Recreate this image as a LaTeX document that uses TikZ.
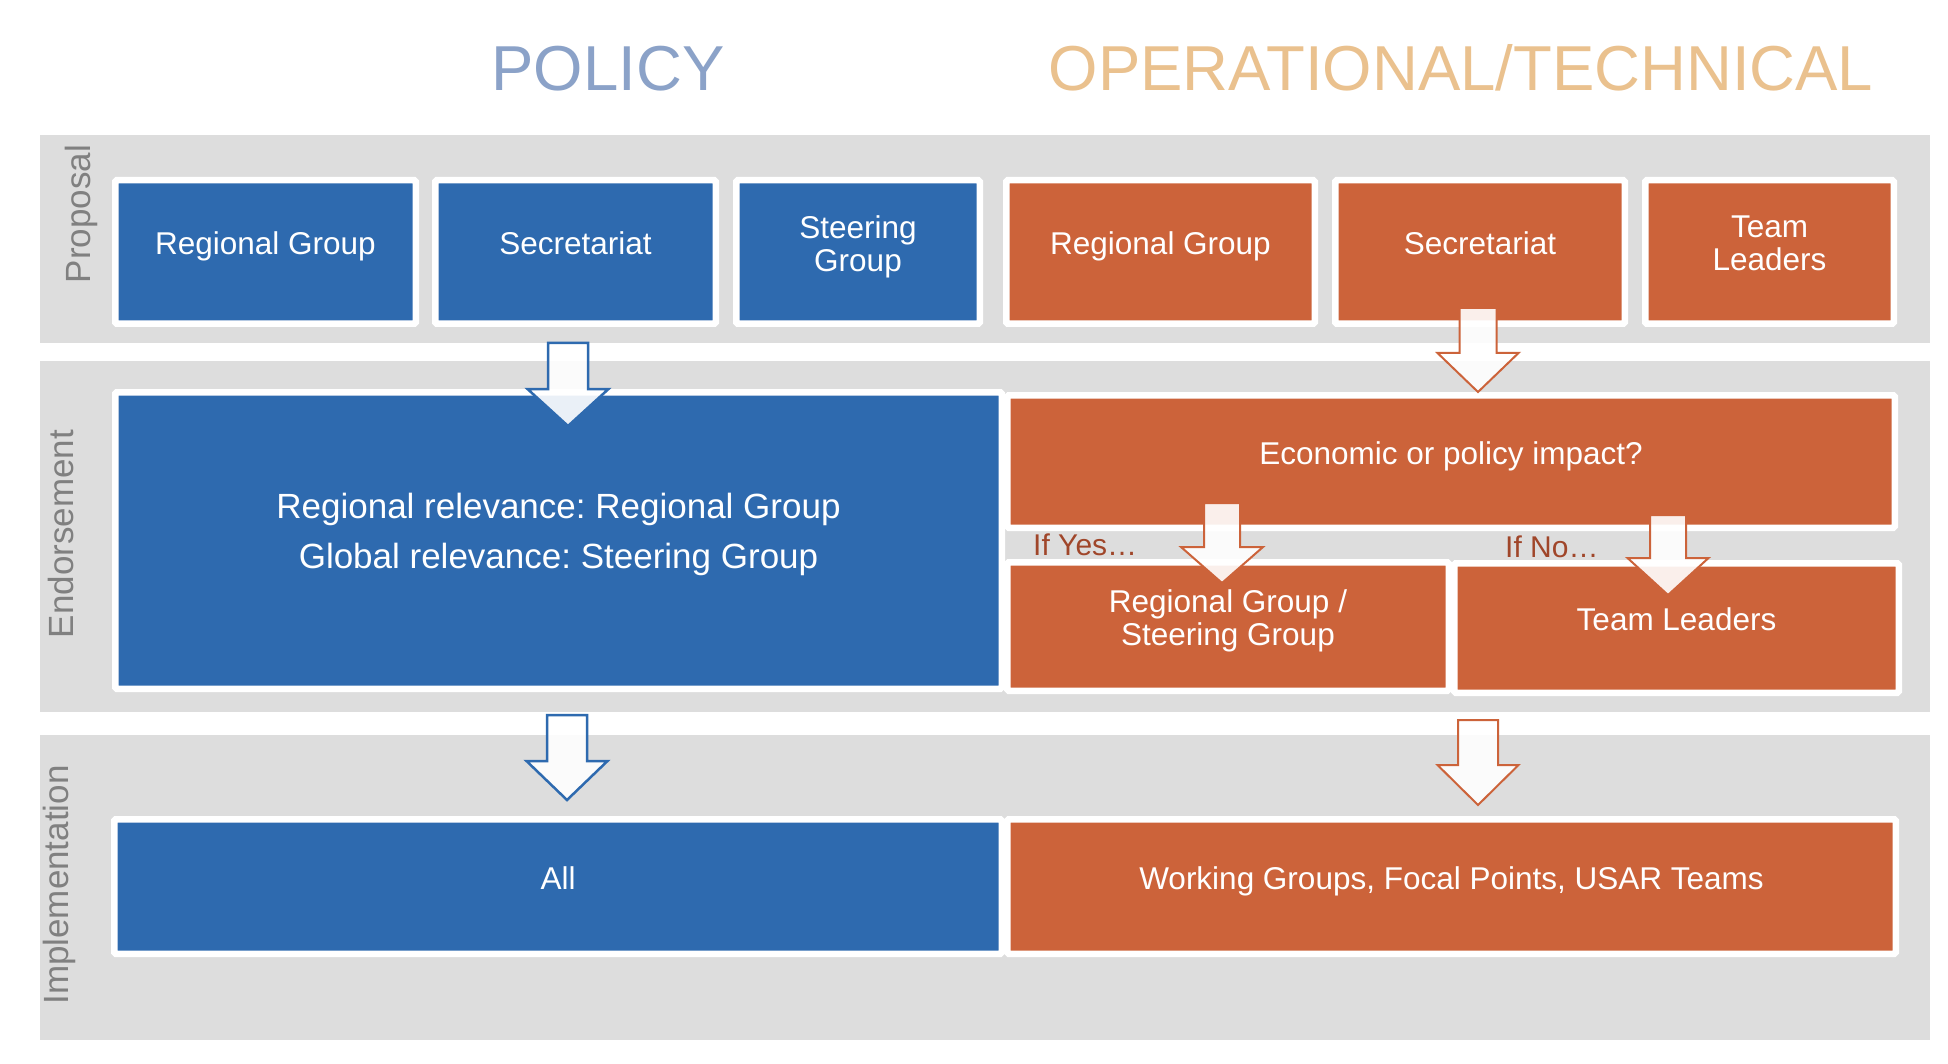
\documentclass[tikz,border=0pt]{standalone}
\usepackage{fontspec}
\setmainfont{Liberation Sans}
\frenchspacing
\definecolor{pblue}{RGB}{46,106,175}
\definecolor{porange}{RGB}{204,99,58}
\definecolor{bandgray}{RGB}{221,221,221}
\definecolor{labelgray}{RGB}{128,128,128}
\definecolor{titleblue}{RGB}{139,162,200}
\definecolor{titleorange}{RGB}{234,193,142}
\definecolor{iftext}{RGB}{160,70,42}
\newcommand{\dn}{\rule[-0.56em]{0pt}{1.28em}}
\newcommand{\dnarrow}[6]{%
  \draw[#1] (#2) ++(-#3,0) -- ++({2*#3},0) -- ++(0,#5) -- ++({#4-#3},0)
    -- ++({-#4},#6) -- ++({-#4},{-#6}) -- ++({#4-#3},0) -- cycle;}
\begin{document}
\begin{tikzpicture}[x=1pt,y=-1pt,
  band/.style={fill=bandgray},
  box/.style={rectangle, draw=white, line width=6.5pt, rounded corners=1.5pt,
    inner sep=0pt, text=white, align=center, font=\fontsize{31.5}{33}\selectfont},
  bluebox/.style={box, fill=pblue},
  orbox/.style={box, fill=porange},
  barrow/.style={draw=pblue, line width=2.5pt, fill=white, fill opacity=0.9},
  oarrow/.style={draw=porange, line width=2pt, fill=white, fill opacity=0.9},
  steplabel/.style={rotate=90, anchor=base, text=labelgray, inner sep=0pt,
    font=\fontsize{35}{40}\selectfont},
  titletext/.style={anchor=base, inner sep=0pt, font=\fontsize{63.5}{70}\selectfont},
  iflabel/.style={anchor=base west, inner sep=0pt, text=iftext, font=\fontsize{30}{34}\selectfont}]
\useasboundingbox (0,0) rectangle (1948,1064);
\fill[white] (0,0) rectangle (1948,1064);

% titles
\node[titletext, text=titleblue] (tpol) at (608,91) {POLICY};
\node[titletext, text=titleorange] (top) at (1461,91) {OPERATIONAL/TECHNICAL};

% bands
\path[band] (40,135) rectangle (1930,343);
\path[band] (40,361) rectangle (1930,712);
\path[band] (40,735) rectangle (1930,1040);

% step labels
\node[steplabel] (lprop) at (90,214) {Proposal};
\node[steplabel] (lend) at (73,534) {Endorsement};
\node[steplabel] (limp) at (68,885) {Implementation};

% proposal row
\node[bluebox, minimum width=300.5, minimum height=143.5] (pRG) at (265.5,252) {Regional Group\dn};
\node[bluebox, minimum width=280.5, minimum height=143.5] (pSec) at (575.5,252) {Secretariat\dn};
\node[bluebox, minimum width=243.5, minimum height=143.5] (pSG) at (858,252) {Steering\\Group\dn};
\node[orbox, minimum width=308.5, minimum height=143.5] (pRGo) at (1160.5,252) {Regional Group\dn};
\node[orbox, minimum width=289.5, minimum height=143.5] (pSeco) at (1480,252) {Secretariat\dn};
\node[orbox, minimum width=248.5, minimum height=143.5] (pTL) at (1769.5,252) {Team\\Leaders\dn};

% endorsement row
\node[bluebox, minimum width=886.5, minimum height=296.5, font=\fontsize{35}{50}\selectfont] (eBlue) at (558.5,540.5)
  {Regional relevance: Regional Group\\Global relevance: Steering Group\dn};
\node[orbox, minimum width=887.5, minimum height=132.5] (eEcon) at (1451,461.5) {Economic or policy impact?\dn};
\node[orbox, minimum width=441.5, minimum height=128.5] (eRGSG) at (1228,626.5) {Regional Group /\\Steering Group\dn};
\node[orbox, minimum width=444.5, minimum height=129.5] (eTL) at (1676.5,628) {Team Leaders\dn};

% implementation row
\node[bluebox, minimum width=887.5, minimum height=134.5] (iAll) at (558,886.5) {All\dn};
\node[orbox, minimum width=888.5, minimum height=134.5] (iWG) at (1451.5,886.5) {Working Groups, Focal Points, USAR Teams\dn};

% block arrows
\coordinate (a1) at (568,343);
\coordinate (a2) at (567,715);
\coordinate (a3) at (1478,308);
\coordinate (a4) at (1478,720);
\coordinate (a5) at (1222,503);
\coordinate (a6) at (1668,515);
\dnarrow{barrow}{a1}{20}{40.5}{46}{37}
\dnarrow{barrow}{a2}{20}{40.5}{46}{39}
\dnarrow{oarrow}{a3}{18.5}{40.5}{45}{39}
\dnarrow{oarrow}{a4}{20}{40.5}{45}{40}
\dnarrow{oarrow}{a5}{18}{41}{44}{36}
\dnarrow{oarrow}{a6}{18}{40.5}{43}{37}

% condition labels
\node[iflabel] (ifyes) at (1033,555) {If Yes…};
\node[iflabel] (ifno) at (1505,557) {If No…};
\end{tikzpicture}
\end{document}
